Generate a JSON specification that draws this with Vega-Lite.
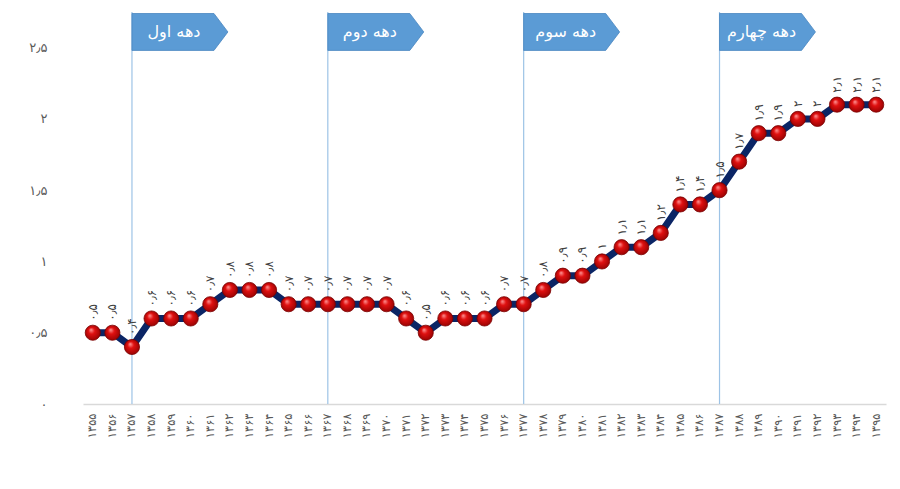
{
  "$schema": "https://vega.github.io/schema/vega-lite/v6.json",
  "autosize": {"type": "none"},
  "width": 803,
  "height": 392,
  "padding": {"left": 83, "top": 12, "right": 14, "bottom": 85},
  "background": "white",
  "config": {"view": {"stroke": null}, "font": "DejaVu Sans"},
  "data": {
    "values": [
      {"year": "۱۳۵۵", "value": 0.5, "label": "۰٫۵"},
      {"year": "۱۳۵۶", "value": 0.5, "label": "۰٫۵"},
      {"year": "۱۳۵۷", "value": 0.4, "label": "۰٫۴", "decade": "دهه اول"},
      {"year": "۱۳۵۸", "value": 0.6, "label": "۰٫۶"},
      {"year": "۱۳۵۹", "value": 0.6, "label": "۰٫۶"},
      {"year": "۱۳۶۰", "value": 0.6, "label": "۰٫۶"},
      {"year": "۱۳۶۱", "value": 0.7, "label": "۰٫۷"},
      {"year": "۱۳۶۲", "value": 0.8, "label": "۰٫۸"},
      {"year": "۱۳۶۳", "value": 0.8, "label": "۰٫۸"},
      {"year": "۱۳۶۴", "value": 0.8, "label": "۰٫۸"},
      {"year": "۱۳۶۵", "value": 0.7, "label": "۰٫۷"},
      {"year": "۱۳۶۶", "value": 0.7, "label": "۰٫۷"},
      {"year": "۱۳۶۷", "value": 0.7, "label": "۰٫۷", "decade": "دهه دوم"},
      {"year": "۱۳۶۸", "value": 0.7, "label": "۰٫۷"},
      {"year": "۱۳۶۹", "value": 0.7, "label": "۰٫۷"},
      {"year": "۱۳۷۰", "value": 0.7, "label": "۰٫۷"},
      {"year": "۱۳۷۱", "value": 0.6, "label": "۰٫۶"},
      {"year": "۱۳۷۲", "value": 0.5, "label": "۰٫۵"},
      {"year": "۱۳۷۳", "value": 0.6, "label": "۰٫۶"},
      {"year": "۱۳۷۴", "value": 0.6, "label": "۰٫۶"},
      {"year": "۱۳۷۵", "value": 0.6, "label": "۰٫۶"},
      {"year": "۱۳۷۶", "value": 0.7, "label": "۰٫۷"},
      {"year": "۱۳۷۷", "value": 0.7, "label": "۰٫۷", "decade": "دهه سوم"},
      {"year": "۱۳۷۸", "value": 0.8, "label": "۰٫۸"},
      {"year": "۱۳۷۹", "value": 0.9, "label": "۰٫۹"},
      {"year": "۱۳۸۰", "value": 0.9, "label": "۰٫۹"},
      {"year": "۱۳۸۱", "value": 1.0, "label": "۱"},
      {"year": "۱۳۸۲", "value": 1.1, "label": "۱٫۱"},
      {"year": "۱۳۸۳", "value": 1.1, "label": "۱٫۱"},
      {"year": "۱۳۸۴", "value": 1.2, "label": "۱٫۲"},
      {"year": "۱۳۸۵", "value": 1.4, "label": "۱٫۴"},
      {"year": "۱۳۸۶", "value": 1.4, "label": "۱٫۴"},
      {"year": "۱۳۸۷", "value": 1.5, "label": "۱٫۵", "decade": "دهه چهارم"},
      {"year": "۱۳۸۸", "value": 1.7, "label": "۱٫۷"},
      {"year": "۱۳۸۹", "value": 1.9, "label": "۱٫۹"},
      {"year": "۱۳۹۰", "value": 1.9, "label": "۱٫۹"},
      {"year": "۱۳۹۱", "value": 2.0, "label": "۲"},
      {"year": "۱۳۹۲", "value": 2.0, "label": "۲"},
      {"year": "۱۳۹۳", "value": 2.1, "label": "۲٫۱"},
      {"year": "۱۳۹۴", "value": 2.1, "label": "۲٫۱"},
      {"year": "۱۳۹۵", "value": 2.1, "label": "۲٫۱"}
    ]
  },
  "encoding": {
    "x": {
      "field": "year",
      "type": "ordinal",
      "sort": "ascending",
      "scale": {"type": "point", "padding": 0.5},
      "axis": {
        "title": null,
        "labelAngle": 270,
        "labelFontSize": 11.5,
        "labelColor": "#595959",
        "labelPadding": 9,
        "ticks": false,
        "domain": true,
        "domainColor": "#d9d9d9",
        "domainWidth": 1.5,
        "grid": false
      }
    }
  },
  "layer": [
    {
      "transform": [{"filter": "datum.decade != null"}],
      "mark": {"type": "rule", "color": "#9dc3e6", "strokeWidth": 1.2},
      "encoding": {}
    },
    {
      "mark": {"type": "line", "color": "#0b2565", "strokeWidth": 7, "strokeJoin": "miter"},
      "encoding": {
        "y": {
          "field": "value",
          "type": "quantitative",
          "scale": {"domain": [0, 2.75], "nice": false},
          "axis": {
            "title": null,
            "values": [0, 0.5, 1, 1.5, 2, 2.5],
            "labelExpr": "datum.value == 0 ? '۰' : datum.value == 0.5 ? '۰٫۵' : datum.value == 1 ? '۱' : datum.value == 1.5 ? '۱٫۵' : datum.value == 2 ? '۲' : '۲٫۵'",
            "grid": false,
            "domain": false,
            "ticks": false,
            "labelPadding": 36,
            "labelFontSize": 13,
            "labelColor": "#595959"
          }
        }
      }
    },
    {
      "mark": {
        "type": "point",
        "shape": "circle",
        "filled": true,
        "size": 230,
        "opacity": 1,
        "stroke": "#7a0000",
        "strokeWidth": 0.8,
        "fill": {
          "gradient": "radial",
          "x1": 0.38, "y1": 0.3, "r1": 0,
          "x2": 0.5, "y2": 0.5, "r2": 0.6,
          "stops": [
            {"offset": 0, "color": "#ff9a9a"},
            {"offset": 0.35, "color": "#e01010"},
            {"offset": 1, "color": "#8a0000"}
          ]
        }
      },
      "encoding": {
        "y": {"field": "value", "type": "quantitative"}
      }
    },
    {
      "mark": {
        "type": "text",
        "angle": 270,
        "align": "left",
        "baseline": "middle",
        "dx": 12,
        "fontSize": 12,
        "color": "#404040"
      },
      "encoding": {
        "y": {"field": "value", "type": "quantitative"},
        "text": {"field": "label"}
      }
    },
    {
      "transform": [{"filter": "datum.decade != null"}],
      "mark": {
        "type": "point",
        "shape": "M0,-0.45L2,-0.45L2.34,0L2,0.45L0,0.45Z",
        "filled": true,
        "size": 6724,
        "fill": "#5b9bd5",
        "opacity": 1,
        "stroke": "#4a86c0",
        "strokeWidth": 0.8
      },
      "encoding": {
        "y": {"datum": 2.61, "type": "quantitative"}
      }
    },
    {
      "transform": [{"filter": "datum.decade != null"}],
      "mark": {
        "type": "text",
        "align": "center",
        "baseline": "middle",
        "dx": 42,
        "fontSize": 16,
        "color": "white"
      },
      "encoding": {
        "y": {"datum": 2.61, "type": "quantitative"},
        "text": {"field": "decade"}
      }
    }
  ]
}
